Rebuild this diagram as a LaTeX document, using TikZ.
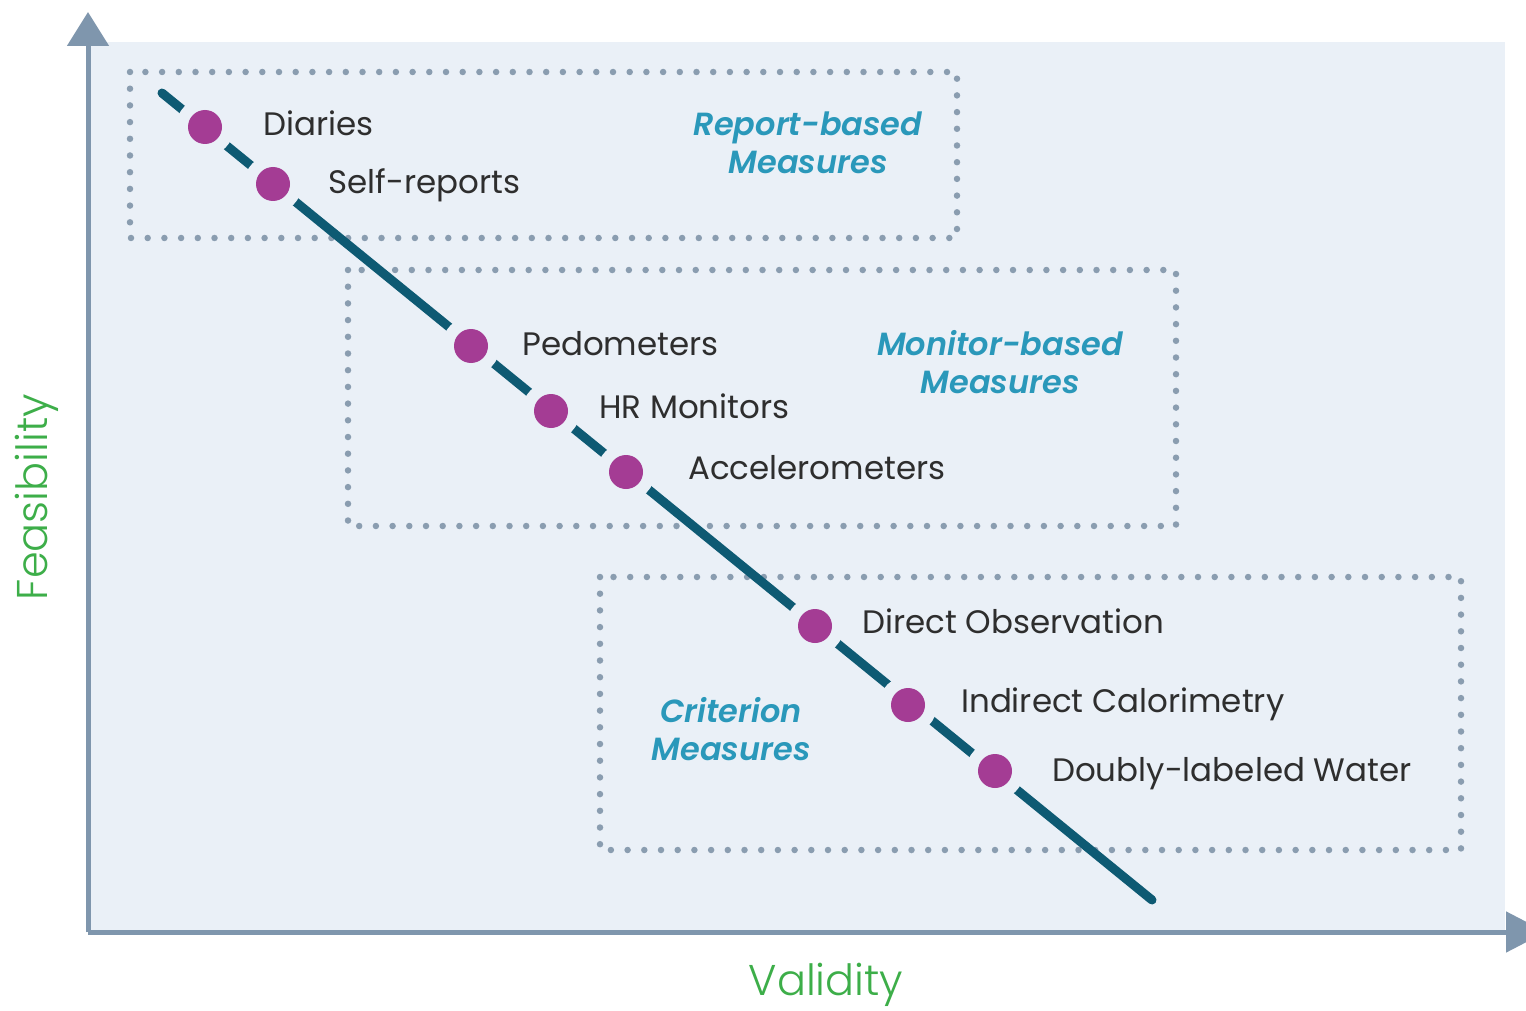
\documentclass[tikz,border=0pt]{standalone}
\usepackage{fontspec}
\setmainfont{Poppins}
\newfontfamily\lightfont{Poppins Light}
\newfontfamily\semiitfont{Poppins SemiBold Italic}
\usetikzlibrary{arrows.meta}
\definecolor{bgc}{HTML}{EAF0F7}
\definecolor{axisc}{HTML}{7F96AD}
\definecolor{dotboxc}{HTML}{8A9DB0}
\definecolor{linec}{HTML}{0E5A73}
\definecolor{dotc}{HTML}{A43C94}
\definecolor{tealc}{HTML}{2A98BA}
\definecolor{greenc}{HTML}{3DAE49}
\definecolor{txtc}{HTML}{2E2E2E}
\tikzset{
  axisline/.style={draw=axisc, line width=5pt},
  dotbox/.style={draw=dotboxc, line width=6.5pt, line cap=round, dash pattern=on 0pt off 16.7pt},
  mainline/.style={draw=linec, line width=9pt, line cap=round},
  dotnode/.style={circle, fill=dotc, minimum size=34pt, inner sep=0pt,
     preaction={draw=bgc, line width=24pt}},
  lbl/.style={anchor=base west, inner sep=0pt, text=txtc, font=\fontsize{32.5}{38}\selectfont},
  grp/.style={anchor=base, inner sep=0pt, text=tealc, align=center,
     font=\semiitfont\fontsize{32}{38}\selectfont},
  axlbl/.style={inner sep=0pt, text=greenc, font=\lightfont\fontsize{43}{50}\selectfont}
}
\begin{document}
\begin{tikzpicture}[x=1pt,y=-1pt]
\useasboundingbox (0,0) rectangle (1526,1011);
\fill[white] (0,0) rectangle (1526,1011);
\fill[bgc] (88,42) rectangle (1505,932);
% axes
\coordinate (O) at (88,932);
\coordinate (Ytip) at (88,12);
\coordinate (Xtip) at (1546,932);
\draw[axisline, -{Triangle[width=41pt,length=34pt]}] (O) -- (Ytip);
\draw[axisline, -{Triangle[width=40pt,length=40pt]}] (O) -- (Xtip);
% dotted boxes
\draw[dotbox] (130,72) rectangle (957,238);
\draw[dotbox] (348,270) rectangle (1176,526);
\draw[dotbox] (600,577) rectangle (1461,850);
% main line
\coordinate (S) at (162,93);
\coordinate (E) at (1152,900);
\draw[mainline] (S) -- (E);
% dots
\node[dotnode] (d1) at (205,127) {};
\node[dotnode] (d2) at (273,184) {};
\node[dotnode] (d3) at (471,346) {};
\node[dotnode] (d4) at (551,411) {};
\node[dotnode] (d5) at (626,472) {};
\node[dotnode] (d6) at (815,626) {};
\node[dotnode] (d7) at (908,705) {};
\node[dotnode] (d8) at (995,771) {};
% labels
\node[lbl] (t1) at (263,136) {Diaries};
\node[lbl] (t2) at (328,194) {Self-reports};
\node[lbl] (t3) at (522,355) {Pedometers};
\node[lbl] (t4) at (599,418) {HR Monitors};
\node[lbl] (t5) at (688,479) {Accelerometers};
\node[lbl] (t6) at (862,633) {Direct Observation};
\node[lbl] (t7) at (961,712) {Indirect Calorimetry};
\node[lbl] (t8) at (1052,781) {Doubly-labeled Water};
% group labels (anchor=base is the last line)
\node[grp] (g1) at (808,174) {Report-based\\Measures};
\node[grp] (g2) at (1000,393) {Monitor-based\\Measures};
\node[grp] (g3) at (731,760) {Criterion\\Measures};
% axis labels
\node[axlbl, anchor=base] (xl) at (826,995) {Validity};
\node[axlbl, anchor=base, rotate=90] (yl) at (47,497) {Feasibility};
\end{tikzpicture}
\end{document}
